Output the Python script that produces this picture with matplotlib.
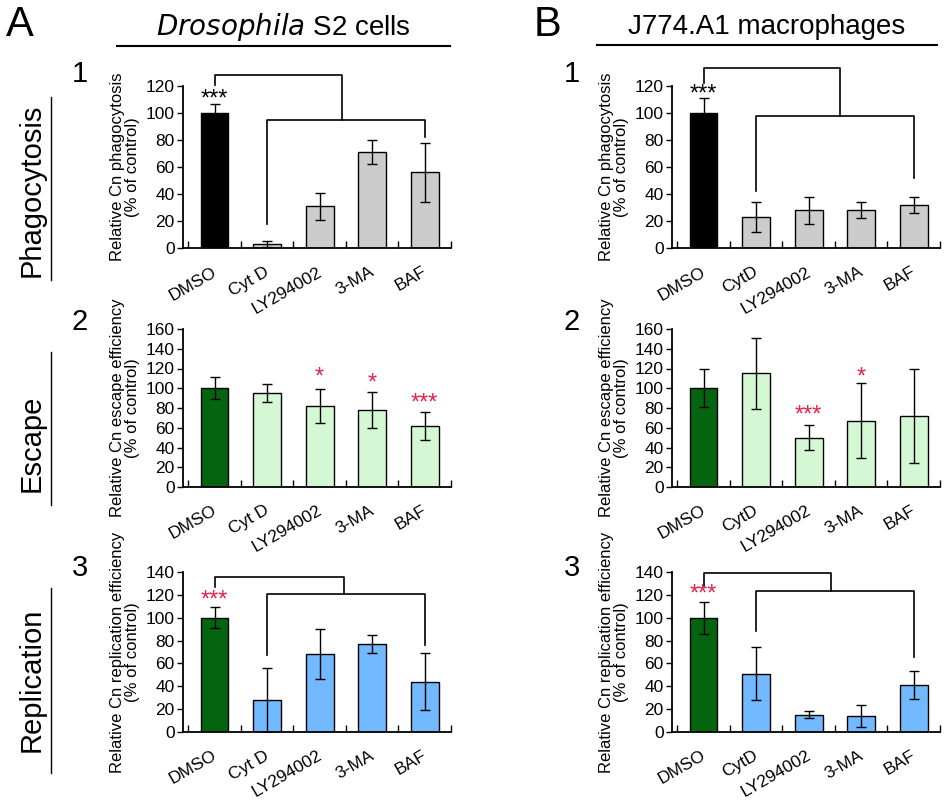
import matplotlib
matplotlib.use("Agg")
import matplotlib.pyplot as plt
import numpy as np

plt.rcParams["font.family"] = ["Liberation Sans", "DejaVu Sans"]

CATS_A = ["DMSO", "Cyt D", "LY294002", "3-MA", "BAF"]
CATS_B = ["DMSO", "CytD", "LY294002", "3-MA", "BAF"]

# values (% of control) and error bars
A1_VAL = [100, 3, 31, 71, 56]
A1_ERR = [7, 2, 10, 9, 22]
B1_VAL = [100, 23, 28, 28, 32]
B1_ERR = [11, 11, 10, 6, 6]
A2_VAL = [100, 95, 82, 78, 62]
A2_ERR = [11, 9, 17, 18, 14]
B2_VAL = [100, 115, 50, 67, 72]
B2_ERR = [19, 36, 13, 38, 48]
A3_VAL = [100, 28, 68, 77, 44]
A3_ERR = [9, 28, 22, 8, 25]
B3_VAL = [100, 51, 15, 14, 41]
B3_ERR = [14, 23, 3, 10, 12]

BLACK, GRAY = "#000000", "#cccccc"
DKGREEN, LTGREEN = "#05640f", "#d4f8d4"
BLUE = "#72b9ff"
RED = "#e8204a"

fig = plt.figure(figsize=(9.47, 8), dpi=100)

LX, RX, W = 183 / 947, 672 / 947, 268 / 947
ROWS = [(1 - 248 / 800, 162 / 800), (1 - 487 / 800, 158 / 800), (1 - 732 / 800, 160 / 800)]


def panel(x0, row, cats, vals, errs, ctrl, col, ymax, ylabel):
    b, h = ROWS[row]
    ax = fig.add_axes([x0, b, W, h])
    x = np.arange(len(cats))
    ax.bar(x, vals, width=0.53, color=[ctrl] + [col] * 4, edgecolor="black", linewidth=1, zorder=2)
    ax.errorbar(x, vals, yerr=errs, fmt="none", ecolor="black", elinewidth=1, capsize=3.5, zorder=3)
    ax.set_xlim(-0.6, 4.5)
    ax.set_ylim(0, ymax)
    ax.set_yticks(np.arange(0, ymax + 1, 20))
    ax.set_xticks(np.arange(-0.5, 4.6, 1))
    ax.set_xticklabels([])
    ax.tick_params(axis="x", length=5, direction="in", width=1)
    ax.tick_params(axis="y", length=4, direction="out", width=1, labelsize=12.5, pad=2)
    for i, c in enumerate(cats):
        ax.text(i - 0.05, -0.1, c, transform=ax.get_xaxis_transform(), rotation=30,
                ha="right", va="top", rotation_mode="anchor", fontsize=12.5)
    ax.spines[["top", "right"]].set_visible(False)
    ax.spines[["left", "bottom"]].set_linewidth(1.3)
    ax.set_ylabel(ylabel, fontsize=12, linespacing=1.0, labelpad=4)
    return ax


def bracket(ax, top, dmso_end, low, cyt_end, baf_end, mid):
    kw = dict(color="black", lw=1.2, clip_on=False)
    ax.plot([0, 0, mid, mid], [dmso_end, top, top, low], **kw)
    ax.plot([1, 1, 4, 4], [cyt_end, low, low, baf_end], **kw)


def stars(ax, xs, ys, labels, color):
    for xv, yv, s in zip(xs, ys, labels):
        ax.text(xv, yv, s, ha="center", va="center", color=color, fontsize=17, clip_on=False)


a1 = panel(LX, 0, CATS_A, A1_VAL, A1_ERR, BLACK, GRAY, 120, "Relative Cn phagocytosis\n(% of control)")
bracket(a1, 128, 121, 95, 18, 82, 2.42)
stars(a1, [0], [110], ["***"], "black")

b1 = panel(RX, 0, CATS_B, B1_VAL, B1_ERR, BLACK, GRAY, 120, "Relative Cn phagocytosis\n(% of control)")
bracket(b1, 133, 122, 98, 42, 52, 2.6)
stars(b1, [0], [114], ["***"], "black")

a2 = panel(LX, 1, CATS_A, A2_VAL, A2_ERR, DKGREEN, LTGREEN, 160, "Relative Cn escape efficiency\n(% of control)")
stars(a2, [2, 3, 4], [111, 105, 85], ["*", "*", "***"], RED)

b2 = panel(RX, 1, CATS_B, B2_VAL, B2_ERR, DKGREEN, LTGREEN, 160, "Relative Cn escape efficiency\n(% of control)")
stars(b2, [2, 3], [72, 111], ["***", "*"], RED)

a3 = panel(LX, 2, CATS_A, A3_VAL, A3_ERR, DKGREEN, BLUE, 140, "Relative Cn replication efficiency\n(% of control)")
bracket(a3, 136, 127, 121, 67, 76, 2.47)
stars(a3, [0], [115], ["***"], RED)

b3 = panel(RX, 2, CATS_B, B3_VAL, B3_ERR, DKGREEN, BLUE, 140, "Relative Cn replication efficiency\n(% of control)")
bracket(b3, 139, 128, 123, 88, 66, 2.43)
stars(b3, [0], [120], ["***"], RED)


def px(xp, yp):
    return xp / 947, 1 - yp / 800


# headers
fig.text(*px(20, 25), "A", fontsize=30, ha="center", va="center")
fig.text(*px(547, 25), "B", fontsize=30, ha="center", va="center")
fig.text(*px(283, 27), r"$\it{Drosophila}$ S2 cells", fontsize=20, ha="center", va="center")
fig.text(*px(767, 27), "J774.A1 macrophages", fontsize=20, ha="center", va="center")
fig.add_artist(plt.Line2D([117 / 947, 450 / 947], [1 - 46 / 800] * 2, color="black", lw=1.5))
fig.add_artist(plt.Line2D([597 / 947, 937 / 947], [1 - 45 / 800] * 2, color="black", lw=1.5))

for yp, n in [(74, "1"), (322, "2"), (568, "3")]:
    fig.text(*px(80, yp), n, fontsize=21, ha="center", va="center")
    fig.text(*px(572, yp), n, fontsize=21, ha="center", va="center")

for yp, lbl, y0, y1 in [(190, "Phagocytosis", 97, 280), (443, "Escape", 352, 505), (680, "Replication", 588, 773)]:
    fig.text(*px(32, yp), lbl, fontsize=21, rotation=90, ha="center", va="center")
    fig.add_artist(plt.Line2D([51 / 947] * 2, [1 - y0 / 800, 1 - y1 / 800], color="black", lw=1))

fig.savefig("out.png", dpi=100)
